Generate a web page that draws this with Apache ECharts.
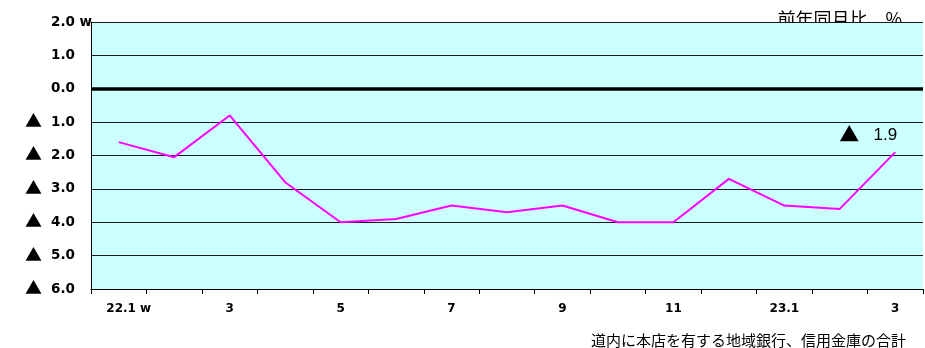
<!DOCTYPE html>
<html>
<head>
<meta charset="utf-8">
<script src="https://cdn.jsdelivr.net/npm/echarts@6/dist/echarts.min.js"></script>
<style>
   html, body { margin: 0; padding: 0; background: #ffffff; }
   #grafica { width: 925px; height: 348px; }
</style>
</head>
<body>
<div id="grafica"></div>
<script>
// ── Datos ───────────────────────────────────────────────────────────────
const meses = ["22.1 w", "2", "3", "4", "5", "6", "7", "8", "9", "10", "11", "12", "23.1", "2", "3"];
const valores = [-1.6, -2.05, -0.8, -2.8, -4.0, -3.9, -3.5, -3.7, -3.5, -4.0, -4.0, -2.7, -3.5, -3.6, -1.9];
const ejeYMin = -6;
const ejeYMax = 2;
const ejeYPaso = 1;
const tituloUnidad = "前年同月比、%";
const notaPie = "道内に本店を有する地域銀行、信用金庫の合計";

// ── Paleta ──────────────────────────────────────────────────────────────
const colores = {
   fondo: "#ccffff",
   linea: "#ff00ff",
   negro: "#000000",
   rejilla: "#1a1a1a",
   texto: "#000000"
};

const fuenteNum = "DejaVu Sans";
const fuenteJp = "Noto Sans CJK JP";

const fnFormatoTriangulo = (valor) => {
   const texto = Math.abs(valor).toFixed(1);
   return valor < 0 ? `{t|▲}{n|${texto}}` : `{t|}{n|${texto}${valor === ejeYMax ? " w" : ""}}`;
};

const graficaInstancia = echarts.init(document.getElementById("grafica"));

// solo el ultimo punto lleva etiqueta
const ultimo = valores.length - 1;

graficaInstancia.setOption({
   animation: false,
   backgroundColor: "#ffffff",
   grid: {
      left: 91, right: 2, top: 22, bottom: 59,
      show: true,
      backgroundColor: colores.fondo,
      borderWidth: 0
   },
   title: [
      {
         text: tituloUnidad,
         right: 18, top: 5,
         z: -1,
         textStyle: { fontFamily: fuenteJp, fontSize: 18, fontWeight: "normal", color: colores.texto }
      },
      {
         text: notaPie,
         right: 14, top: 328,
         textStyle: { fontFamily: fuenteJp, fontSize: 15, fontWeight: "normal", color: colores.texto }
      }
   ],
   xAxis: {
      type: "category",
      data: meses,
      boundaryGap: true,
      axisLine: { onZero: false, lineStyle: { color: colores.negro, width: 1 } },
      axisTick: { show: true, interval: 0, length: 5, lineStyle: { color: colores.negro } },
      axisLabel: {
         interval: 1,
         margin: 14,
         fontFamily: fuenteNum,
         fontWeight: "bold",
         fontSize: 12,
         color: colores.texto,
         formatter: (v, i) => i === 0 ? `{p|}${v}` : v,
         rich: { p: { width: 20 } }
      },
      splitLine: { show: false }
   },
   yAxis: {
      type: "value",
      min: ejeYMin,
      max: ejeYMax,
      interval: ejeYPaso,
      axisLine: { show: true, lineStyle: { color: colores.negro, width: 1 } },
      axisTick: { show: false },
      axisLabel: {
         align: "left",
         margin: 66,
         color: colores.texto,
         formatter: fnFormatoTriangulo,
         rich: {
            t: { width: 26, fontFamily: fuenteJp, fontSize: 17, color: colores.texto, padding: [0, 0, 3, 0] },
            n: { fontFamily: fuenteNum, fontWeight: "bold", fontSize: 13.5, color: colores.texto }
         }
      },
      splitLine: { show: true, lineStyle: { color: colores.rejilla, width: 1 } }
   },
   series: [
      {
         type: "line",
         data: valores,
         symbol: "none",
         lineStyle: { color: colores.linea, width: 2 },
         itemStyle: { color: colores.linea },
         markLine: {
            silent: true,
            symbol: "none",
            label: { show: false },
            lineStyle: { color: colores.negro, width: 3.5, type: "solid" },
            data: [{ yAxis: 0 }]
         },
         markPoint: {
            silent: true,
            symbol: "circle",
            symbolSize: 0,
            data: [{ coord: [ultimo, valores[ultimo]], value: valores[ultimo] }],
            label: {
               show: true,
               position: "top",
               offset: [-27, 0],
               formatter: (p) => `{t|▲}   ${Math.abs(p.value).toFixed(1)}`,
               fontFamily: "Liberation Sans",
               fontSize: 17,
               color: colores.texto,
               rich: { t: { fontFamily: fuenteJp, fontSize: 20, color: colores.texto, padding: [0, 0, 3, 0] } }
            }
         },
         z: 3
      }
   ]
});
</script>
</body>
</html>
